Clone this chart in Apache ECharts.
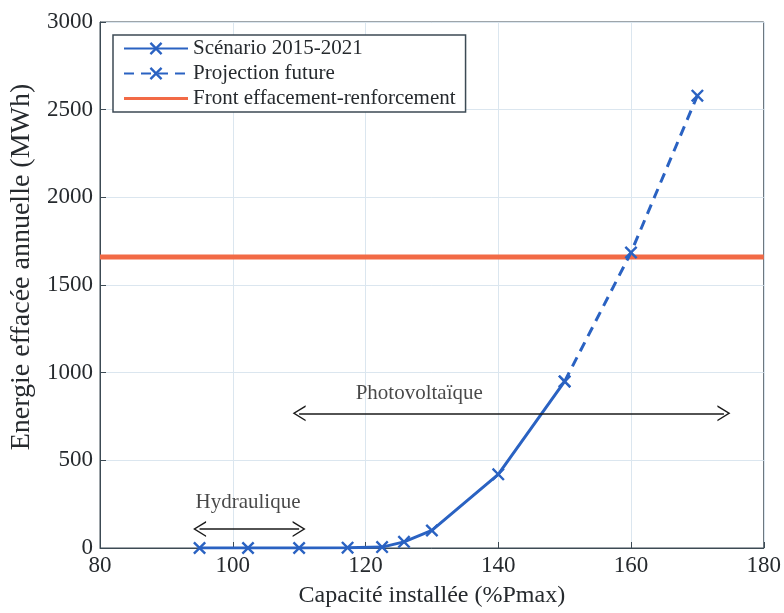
<!DOCTYPE html>
<html>
<head>
<meta charset="utf-8">
<script src="https://cdn.jsdelivr.net/npm/echarts@6/dist/echarts.min.js"></script>
<style>html,body{margin:0;padding:0;background:#fff}#c{width:784px;height:613px}</style>
</head>
<body>
<div id="c"></div>
<script>
// ---- data ----
const scenarioCapacity = [95, 102.3, 110, 117.3, 122.5, 125.8, 130, 140, 150];
const scenarioEnergy   = [0, 0, 0, 2, 5, 35, 100, 420, 950];
const projectionCapacity = [150, 160, 170];
const projectionEnergy   = [950, 1685, 2580];
const frontEnergy = 1660;
const frontCapacity = [80, 180];
const seriesNames = ['Scénario 2015-2021', 'Projection future', 'Front effacement-renforcement'];
const pvArrow = { from: 110, to: 174, y: 768, label: 'Photovoltaïque', labelX: 128.1, labelY: 880 };
const hydroArrow = { from: 95, to: 110, y: 108, label: 'Hydraulique', labelX: 102.3, labelY: 262 };
const xTicks = [80, 100, 120, 140, 160, 180];
const yTicks = [0, 500, 1000, 1500, 2000, 2500, 3000];

const FONT = 'Liberation Serif';
const BLUE = '#2A62C2';
const RED = '#F26A46';
const TXT = '#262a2e';
const AX = '#3c4a54';
const X_SYMBOL = 'path://M0,1.3 L1.3,0 L5,3.7 L8.7,0 L10,1.3 L6.3,5 L10,8.7 L8.7,10 L5,6.3 L1.3,10 L0,8.7 L3.7,5 Z';
const CHEVRON = 'path://M0,10 L5,0 L10,10 L9,10 L5,2 L1,10 Z';
const LINE_ICON = 'path://M0,0 L0.01,0 L0,0.01 Z M0,6.5 L64,6.5 L64,9.5 L0,9.5 Z M64,16 L63.99,16 L64,15.99 Z';

const zip = (a, b) => a.map((v, i) => [v, b[i]]);

const chart = echarts.init(document.getElementById('c'), null, { renderer: 'canvas' });
chart.setOption({
  animation: false,
  backgroundColor: '#fff',
  grid: { left: 100, right: 19, top: 22, bottom: 64, show: true, borderColor: AX, borderWidth: 1, backgroundColor: 'transparent' },
  legend: {
    data: [
      { name: seriesNames[0] },
      { name: seriesNames[1] },
      { name: seriesNames[2], icon: LINE_ICON }
    ],
    orient: 'vertical',
    left: 113, top: 35,
    backgroundColor: '#fff',
    borderColor: AX, borderWidth: 1.5, borderRadius: 0,
    padding: [3, 10, 3, 10],
    itemWidth: 64, itemHeight: 16, itemGap: 4,
    textStyle: { fontFamily: FONT, fontSize: 21, color: TXT, padding: [0, 0, 0, 0] }
  },
  xAxis: {
    type: 'value', min: 80, max: 180, interval: 20,
    name: 'Capacité installée (%Pmax)', nameLocation: 'middle', nameGap: 36,
    nameTextStyle: { fontFamily: FONT, fontSize: 24, color: TXT },
    axisLine: { show: true, lineStyle: { color: AX } },
    axisTick: { show: true, inside: true, length: 6, lineStyle: { color: AX } },
    axisLabel: { fontFamily: FONT, fontSize: 23, color: TXT, margin: 6 },
    splitLine: { show: true, lineStyle: { color: '#dbe6ef', width: 1 } }
  },
  yAxis: {
    type: 'value', min: 0, max: 3000, interval: 500,
    name: 'Energie effacée annuelle (MWh)', nameLocation: 'middle', nameGap: 62,
    nameTextStyle: { fontFamily: FONT, fontSize: 28, color: TXT, padding: [0, 0, 0, 36] },
    axisLine: { show: true, lineStyle: { color: AX } },
    axisTick: { show: true, inside: true, length: 6, lineStyle: { color: AX } },
    axisLabel: { fontFamily: FONT, fontSize: 23, color: TXT, margin: 7, formatter: v => String(v) },
    splitLine: { show: true, lineStyle: { color: '#dbe6ef', width: 1 } }
  },
  series: [
    {
      name: seriesNames[2], type: 'line', z: 2,
      data: frontCapacity.map(x => [x, frontEnergy]),
      showSymbol: false, symbol: 'none',
      lineStyle: { color: RED, width: 5 }, itemStyle: { color: RED }
    },
    {
      name: seriesNames[0], type: 'line', z: 4,
      data: zip(scenarioCapacity, scenarioEnergy),
      symbol: X_SYMBOL, symbolSize: 13, showAllSymbol: true,
      lineStyle: { color: BLUE, width: 3 }, itemStyle: { color: BLUE }
    },
    {
      name: seriesNames[1], type: 'line', z: 3,
      data: zip(projectionCapacity, projectionEnergy),
      symbol: X_SYMBOL, symbolSize: 13,
      lineStyle: { color: BLUE, width: 3, type: [10, 7] }, itemStyle: { color: BLUE }
    },
    {
      name: 'annotations', type: 'scatter', z: 5, silent: true,
      data: [[pvArrow.labelX, pvArrow.labelY, pvArrow.label], [hydroArrow.labelX, hydroArrow.labelY, hydroArrow.label]],
      symbolSize: 0,
      label: { show: true, position: 'inside', formatter: p => p.data[2], fontFamily: FONT, fontSize: 21, color: '#1a1a1a' },
      markLine: {
        silent: true,
        symbol: [CHEVRON, CHEVRON], symbolSize: [16, 13],
        lineStyle: { color: '#1a1a1a', width: 1.5, type: 'solid' },
        itemStyle: { color: '#1a1a1a' },
        label: { show: false },
        data: [
          [{ coord: [pvArrow.from, pvArrow.y] }, { coord: [pvArrow.to, pvArrow.y] }],
          [{ coord: [hydroArrow.from, hydroArrow.y] }, { coord: [hydroArrow.to, hydroArrow.y] }]
        ]
      }
    }
  ]
});
</script>
</body>
</html>
